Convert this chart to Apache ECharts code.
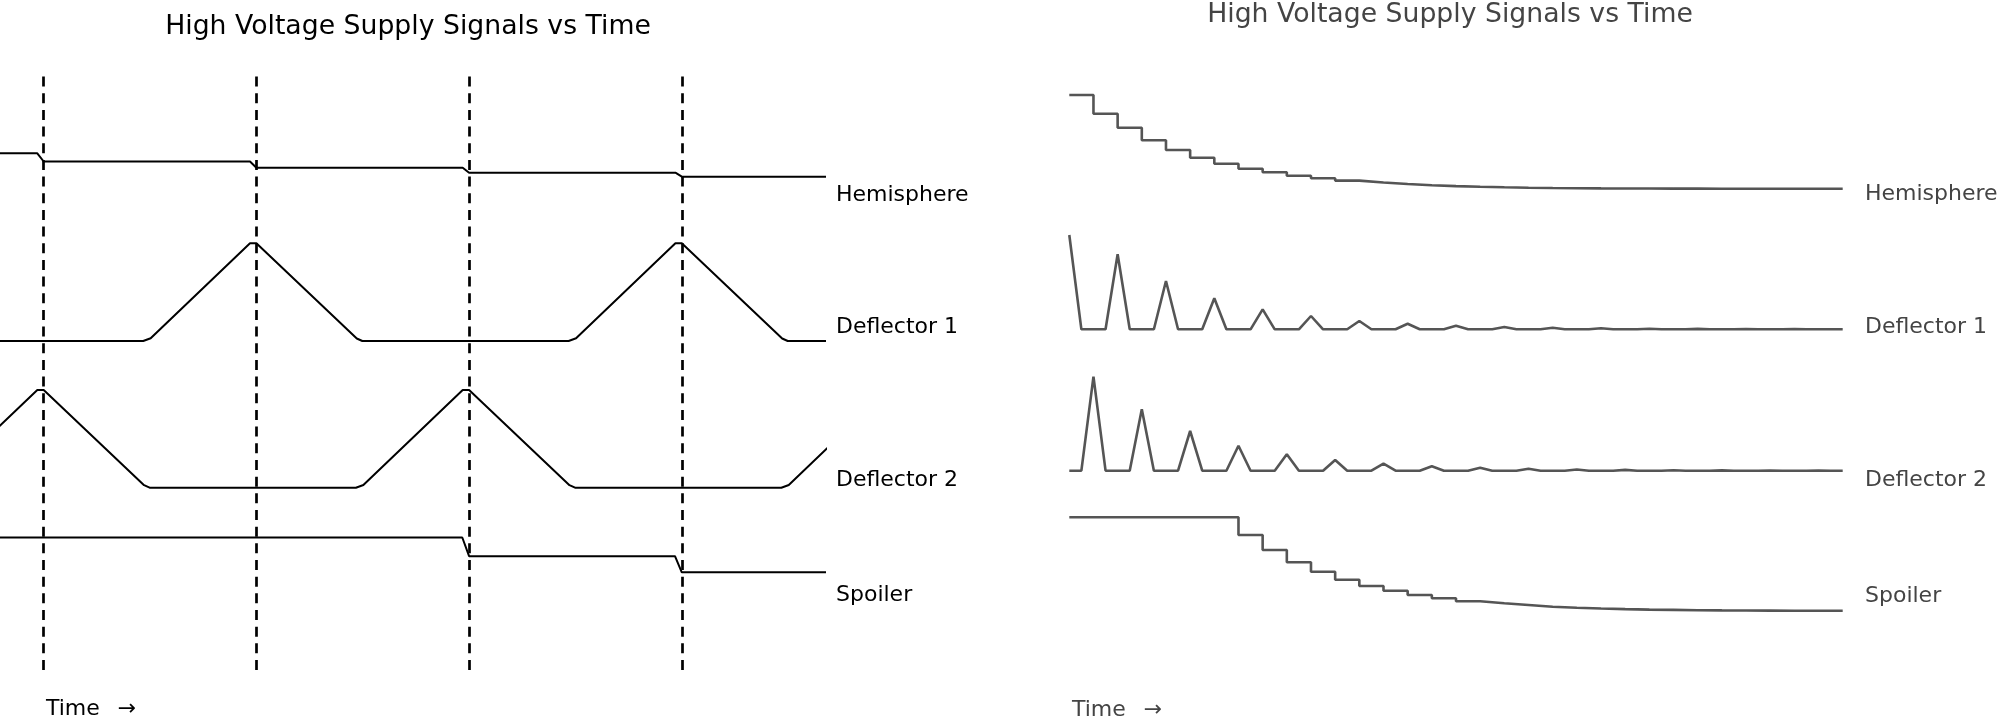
<!DOCTYPE html>
<html>
<head>
<meta charset="utf-8">
<script src="https://cdn.jsdelivr.net/npm/echarts@6/dist/echarts.min.js"></script>
<style>
  html, body { margin: 0; padding: 0; background: #fff; }
  #chart { width: 2000px; height: 721px; }
</style>
</head>
<body>
<div id="chart"></div>
<script>
// ---------------- DATA ----------------
const TITLE = 'High Voltage Supply Signals vs Time';
const SIGNAL_NAMES = ['Hemisphere', 'Deflector 1', 'Deflector 2', 'Spoiler'];
const TIME_LABEL = 'Time\u2002 \u2192';

// Left chart: [time, amplitude above the signal's own baseline]
const L_DASH_T = [10, 20, 30, 40];
const L_HEMI = [[7.5, 23.4], [9.7, 23.4], [10, 15.2], [19.7, 15.2], [20, 9.0], [29.7, 9.0], [30, 4.0], [39.7, 4.0], [40, 0], [46.78, 0]];
const L_DEF1 = [[7.5, 0], [14.68, 0], [15.03, 2.7], [19.7, 97.7], [20.0, 97.7], [24.72, 2.5], [24.98, 0], [34.68, 0], [35.03, 2.7], [39.7, 97.7], [40.0, 97.7], [44.72, 2.5], [44.98, 0], [46.78, 0]];
const L_DEF2 = [[4.68, 0], [5.03, 2.7], [9.7, 97.7], [10, 97.7], [14.72, 2.5], [14.98, 0], [24.68, 0], [25.03, 2.7], [29.7, 97.7], [30, 97.7], [34.72, 2.5], [34.98, 0], [44.68, 0], [45.03, 2.7], [49.7, 97.7]];
const L_SPOIL = [[7.5, 34.8], [29.68, 34.8], [30, 16.1], [39.68, 16.1], [40, 0], [46.78, 0]];

// Right chart: staircase levels per step (k = 0..32)
const R_HEMI = [93.7, 75, 61, 48.4, 38.7, 31, 25, 20, 16.4, 13, 10.4, 8.1, 6.2, 4.7, 3.5, 2.6, 1.9, 1.4, 1.0, 0.7, 0.5, 0.35, 0.25, 0.15, 0.1, 0.05, 0, 0, 0, 0, 0, 0, 0];
const R_SPOIL = [93.4, 93.4, 93.4, 93.4, 93.4, 93.4, 93.4, 75.7, 60.7, 48.4, 39, 31, 24.7, 20, 15.7, 12.4, 9.4, 7.4, 5.7, 4.0, 3.0, 2.2, 1.6, 1.1, 0.8, 0.5, 0.3, 0.2, 0.1, 0, 0, 0, 0];
// Right chart: deflector spikes sampled every half step (k = 0, 0.5, ... 32)
const R_DEF1 = [94.3,0,0,0, 75,0,0,0, 48.3,0,0,0, 31,0,0,0, 20,0,0,0, 13.3,0,0,0, 8.3,0,0,0, 5.5,0,0,0, 3.5,0,0,0, 2.3,0,0,0, 1.5,0,0,0, 1.0,0,0,0, 0.6,0,0,0, 0.4,0,0,0, 0.3,0,0,0, 0.2,0,0,0, 0];
const R_DEF2 = [0,0,94,0, 0,0,61.4,0, 0,0,39.7,0, 0,0,25,0, 0,0,16.4,0, 0,0,10.7,0, 0,0,7,0, 0,0,4.5,0, 0,0,2.9,0, 0,0,1.9,0, 0,0,1.2,0, 0,0,0.8,0, 0,0,0.5,0, 0,0,0.3,0, 0,0,0.2,0, 0,0,0.1,0, 0];
const R_SAMPLE_DT = 0.5;

// ---------------- LAYOUT ----------------
const L_LANE = [493.3, 329, 182.3, 97.7];   // baselines in left y-axis units
const R_LANE = [532.3, 391.7, 250.3, 110.3];  // baselines in right y-axis units
const FONT = '"DejaVu Sans", Verdana, sans-serif';
const L_COLOR = '#000';
const R_COLOR = '#555';
const R_TEXT = '#444';

function lane(pairs, base) { return pairs.map(p => [p[0], base + p[1]]); }
function steps(levels, base) { return levels.map((v, k) => [k, base + v]); }
function samples(vals, base) { return vals.map((v, i) => [i * R_SAMPLE_DT, base + v]); }

function lineSeries(data, gi, color, width, extra) {
  return Object.assign({
    type: 'line', data: data, xAxisIndex: gi, yAxisIndex: gi,
    showSymbol: false, symbol: 'none', animation: false, silent: true,
    lineStyle: { color: color, width: width }, clip: true
  }, extra || {});
}

const chart = echarts.init(document.getElementById('chart'), null, { renderer: 'canvas' });

const series = [
  lineSeries(lane(L_HEMI, L_LANE[0]), 0, L_COLOR, 2, {
    markLine: {
      silent: true, animation: false, symbol: ['none', 'none'],
      label: { show: false },
      lineStyle: { color: '#000', width: 2.7, type: [10, 6.67] },
      data: L_DASH_T.map(t => ({ xAxis: t }))
    }
  }),
  lineSeries(lane(L_DEF1, L_LANE[1]), 0, L_COLOR, 2),
  lineSeries(lane(L_DEF2, L_LANE[2]), 0, L_COLOR, 2),
  lineSeries(lane(L_SPOIL, L_LANE[3]), 0, L_COLOR, 2),
  lineSeries(steps(R_HEMI, R_LANE[0]), 1, R_COLOR, 2.6, { step: 'end' }),
  lineSeries(samples(R_DEF1, R_LANE[1]), 1, R_COLOR, 2.6),
  lineSeries(samples(R_DEF2, R_LANE[2]), 1, R_COLOR, 2.6),
  lineSeries(steps(R_SPOIL, R_LANE[3]), 1, R_COLOR, 2.6, { step: 'end' })
];

function txt(text, x, y, size, color, align) {
  return {
    type: 'text', x: x, y: y, silent: true,
    style: {
      text: text, fill: color, font: size + 'px ' + FONT,
      align: align || 'left', verticalAlign: 'middle',
      textAlign: align || 'left', textVerticalAlign: 'middle'
    }
  };
}

const L_LABEL_Y = [195.5, 327, 480.5, 595.5];
const R_LABEL_Y = [194.5, 327, 480.5, 596.5];
const graphics = [
  txt(TITLE, 408, 27.3, 26.7, '#000', 'center'),
  txt(TITLE, 1450, 15.5, 26.7, R_TEXT, 'center'),
  txt(TIME_LABEL, 46, 709, 22, '#000'),
  txt(TIME_LABEL, 1072, 710, 22, R_TEXT)
];
SIGNAL_NAMES.forEach((n, i) => {
  graphics.push(txt(n, 836, L_LABEL_Y[i], 22, '#000'));
  graphics.push(txt(n, 1865, R_LABEL_Y[i], 22, R_TEXT));
});

chart.setOption({
  backgroundColor: '#fff',
  animation: false,
  grid: [
    { left: 0, top: 76.5, width: 826, height: 593.5 },
    { left: 1069.3, top: 0, width: 773.4, height: 721 }
  ],
  xAxis: [
    { type: 'value', gridIndex: 0, min: 7.946, max: 46.78, show: false },
    { type: 'value', gridIndex: 1, min: 0, max: 32, show: false }
  ],
  yAxis: [
    { type: 'value', gridIndex: 0, min: 0, max: 593.5, show: false },
    { type: 'value', gridIndex: 1, min: 0, max: 721, show: false }
  ],
  series: series,
  graphic: graphics
});
</script>
</body>
</html>
